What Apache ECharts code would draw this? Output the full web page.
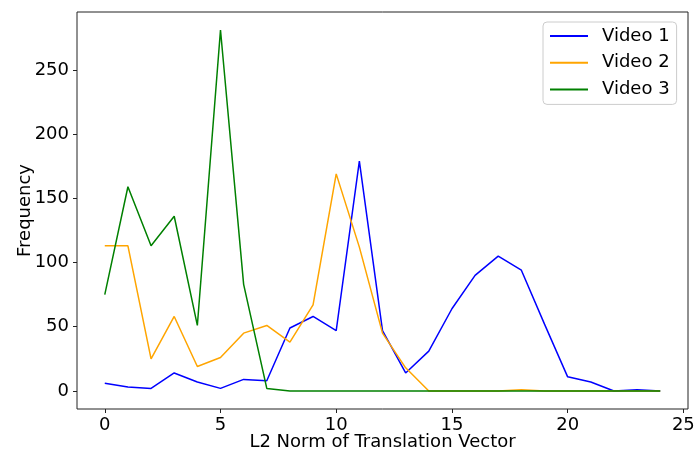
<!DOCTYPE html>
<html><head><meta charset="utf-8">
<script src="https://cdn.jsdelivr.net/npm/echarts@6/dist/echarts.min.js"></script>
<style>html,body{margin:0;padding:0;background:#fff}#c{width:694px;height:454px}</style>
</head><body><div id="c"></div>
<script>
const xValues = [0,1,2,3,4,5,6,7,8,9,10,11,12,13,14,15,16,17,18,19,20,21,22,23,24];
const video1 = [6,3,2,14,7,2,9,8,49,58,47,179,47,14,31,64,90,105,94,52,11,7,0,1,0];
const video2 = [113,113,25,58,19,26,45,51,38,67,169,112,45,18,0,0,0,0,1,0,0,0,0,0,0];
const video3 = [75,159,113,136,51,281,83,2,0,0,0,0,0,0,0,0,0,0,0,0,0,0,0,0,0];
const xTicks = [0,5,10,15,20,25];
const yTicks = [0,50,100,150,200,250];
const seriesNames = ['Video 1','Video 2','Video 3'];
const seriesColors = ['#0000ff','#ffa500','#008000'];

const font = 'DejaVu Sans';
const allData = [video1, video2, video3];
const chart = echarts.init(document.getElementById('c'), null, {renderer:'canvas'});
chart.setOption({
  animation:false,
  grid:{left:77,right:6,top:12,bottom:45,show:true,borderColor:'#222',borderWidth:1,containLabel:false,outerBoundsMode:'none'},
  xAxis:{type:'value',min:-1.2,max:25.2,
    name:'L2 Norm of Translation Vector',nameLocation:'middle',nameGap:24,nameMoveOverlap:false,
    nameTextStyle:{fontFamily:font,fontSize:18,color:'#000'},
    axisLine:{show:false,onZero:false},splitLine:{show:false},
    axisTick:{show:true,length:4,lineStyle:{color:'#222'},customValues:xTicks},
    axisLabel:{fontFamily:font,fontSize:18,color:'#000',margin:7,customValues:xTicks}},
  yAxis:{type:'value',min:-14.05,max:295.05,
    name:'Frequency',nameLocation:'middle',nameGap:43,nameMoveOverlap:false,
    nameTextStyle:{fontFamily:font,fontSize:18,color:'#000'},
    axisLine:{show:false,onZero:false},splitLine:{show:false},
    axisTick:{show:true,length:4,lineStyle:{color:'#222'},customValues:yTicks},
    axisLabel:{fontFamily:font,fontSize:18,color:'#000',margin:8,customValues:yTicks}},
  legend:{orient:'vertical',left:543,top:22,padding:[4,7,5,7],itemGap:6.7,
    itemWidth:38,itemHeight:2,icon:'rect',
    backgroundColor:'rgba(255,255,255,0.8)',borderColor:'#cccccc',borderWidth:1,borderRadius:4,
    textStyle:{fontFamily:font,fontSize:18,color:'#000',lineHeight:20,padding:[0,0,0,9]},
    data:seriesNames},
  series: seriesNames.map((n,i)=>({
    name:n,type:'line',symbol:'none',showSymbol:false,
    color:seriesColors[i],
    lineStyle:{width:1.5,color:seriesColors[i]},
    data:xValues.map((x,j)=>[x,allData[i][j]])
  }))
});
</script></body></html>
